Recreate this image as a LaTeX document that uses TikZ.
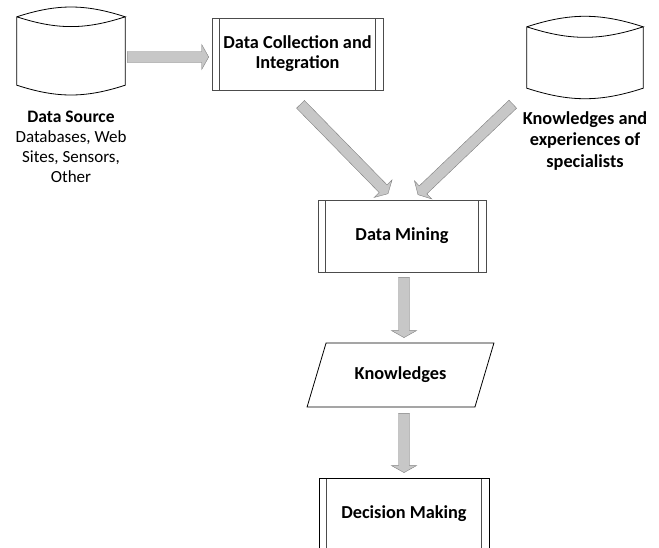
\documentclass[tikz,border=0pt]{standalone}
\usepackage{fontspec}
\setmainfont{Carlito}
\usetikzlibrary{calc,shapes.geometric}

\definecolor{boxline}{gray}{0.3}
\definecolor{arrowfill}{gray}{0.78}
\definecolor{arrowline}{gray}{0.5}

% fat gray arrow: #1 tail, #2 tip
\newcommand{\fatarrow}[2]{
	\path (#1) coordinate (t) (#2) coordinate (p) ($(p)!7pt!(t)$) coordinate (h);
	\filldraw[fill=arrowfill, draw=arrowline, thin]
		($(t)!5.5pt!90:(p)$) -- ($(h)!5.5pt!90:(p)$) -- ($(h)!12.5pt!90:(p)$) -- (p)
		-- ($(h)!12.5pt!-90:(p)$) -- ($(h)!5.5pt!-90:(p)$) -- ($(t)!5.5pt!-90:(p)$) -- cycle;
}
% drum drawn on a named body node
\newcommand{\drum}[1]{
	\draw[thick] (#1.north west) to[bend left=18] (#1.north east) to[bend left=18] (#1.north west)
		-- (#1.south west) to[bend right=18] (#1.south east) -- (#1.north east);
}

\begin{document}
\begin{tikzpicture}[x=1pt, y=-1pt, every node/.style={font=\fontsize{17}{20}\selectfont, align=center},
	boldtext/.style={font=\fontsize{18.3}{20}\selectfont\bfseries},
	procbox/.style={draw=boxline, semithick, minimum height=72pt, boldtext,
		path picture={
			\draw[boxline] ([xshift=7.5pt]path picture bounding box.south west) -- ([xshift=7.5pt]path picture bounding box.north west);
			\draw[boxline] ([xshift=-7.5pt]path picture bounding box.south east) -- ([xshift=-7.5pt]path picture bounding box.north east);
		}},
	body/.style={minimum width=#1, minimum height=66pt, inner sep=0pt}]
			\clip (0,0) rectangle (659,547);
			\useasboundingbox (0,0) rectangle (659,547);
			
			\node[body=108pt, minimum height=68pt] (src) at (71,51){};
			\node[body=116pt, minimum height=61pt] (spec) at (585,57.5){};
			\drum{src}
			\drum{spec}
			\node (srctext) at (71,147){{\fontsize{17.5}{20}\selectfont\bfseries Data Source}\\Databases, Web\\Sites, Sensors,\\Other};
			\node[boldtext, font=\fontsize{18.3}{21.5}\selectfont\bfseries] (spectext) at (585,141){Knowledges and\\experiences of\\specialists};
			
			\node[procbox, minimum width=171pt] (dci) at (297.5,54){Data Collection and\\Integration};
			\node[procbox, minimum width=168pt] (dm) at (402,236){Data Mining};
			\node[draw, thick, trapezium, trapezium left angle=61, trapezium right angle=119, trapezium stretches=true,
				minimum width=187pt, minimum height=64pt, boldtext] (kn) at (400.5,375){Knowledges};
			\node[procbox, draw=black, thick, minimum width=170pt] (dmk) at (404,514){Decision Making};
			
			\fatarrow{[shift={(2pt,-6pt)}]src.east}{[shift={(-3pt,-3pt)}]dci.west}
			\fatarrow{[shift={(3pt,-14pt)}]dci.south}{[shift={(-14pt,6pt)}]dm.north}
			\fatarrow{[shift={(-14pt,-16pt)}]spec.south west}{[shift={(16pt,5pt)}]dm.north}
			\fatarrow{[shift={(2pt,-5pt)}]dm.south}{[shift={(3.5pt,5pt)}]kn.north}
			\fatarrow{[shift={(3.5pt,-6pt)}]kn.south}{[shift={(0pt,5pt)}]dmk.north}
\end{tikzpicture}
\end{document}
